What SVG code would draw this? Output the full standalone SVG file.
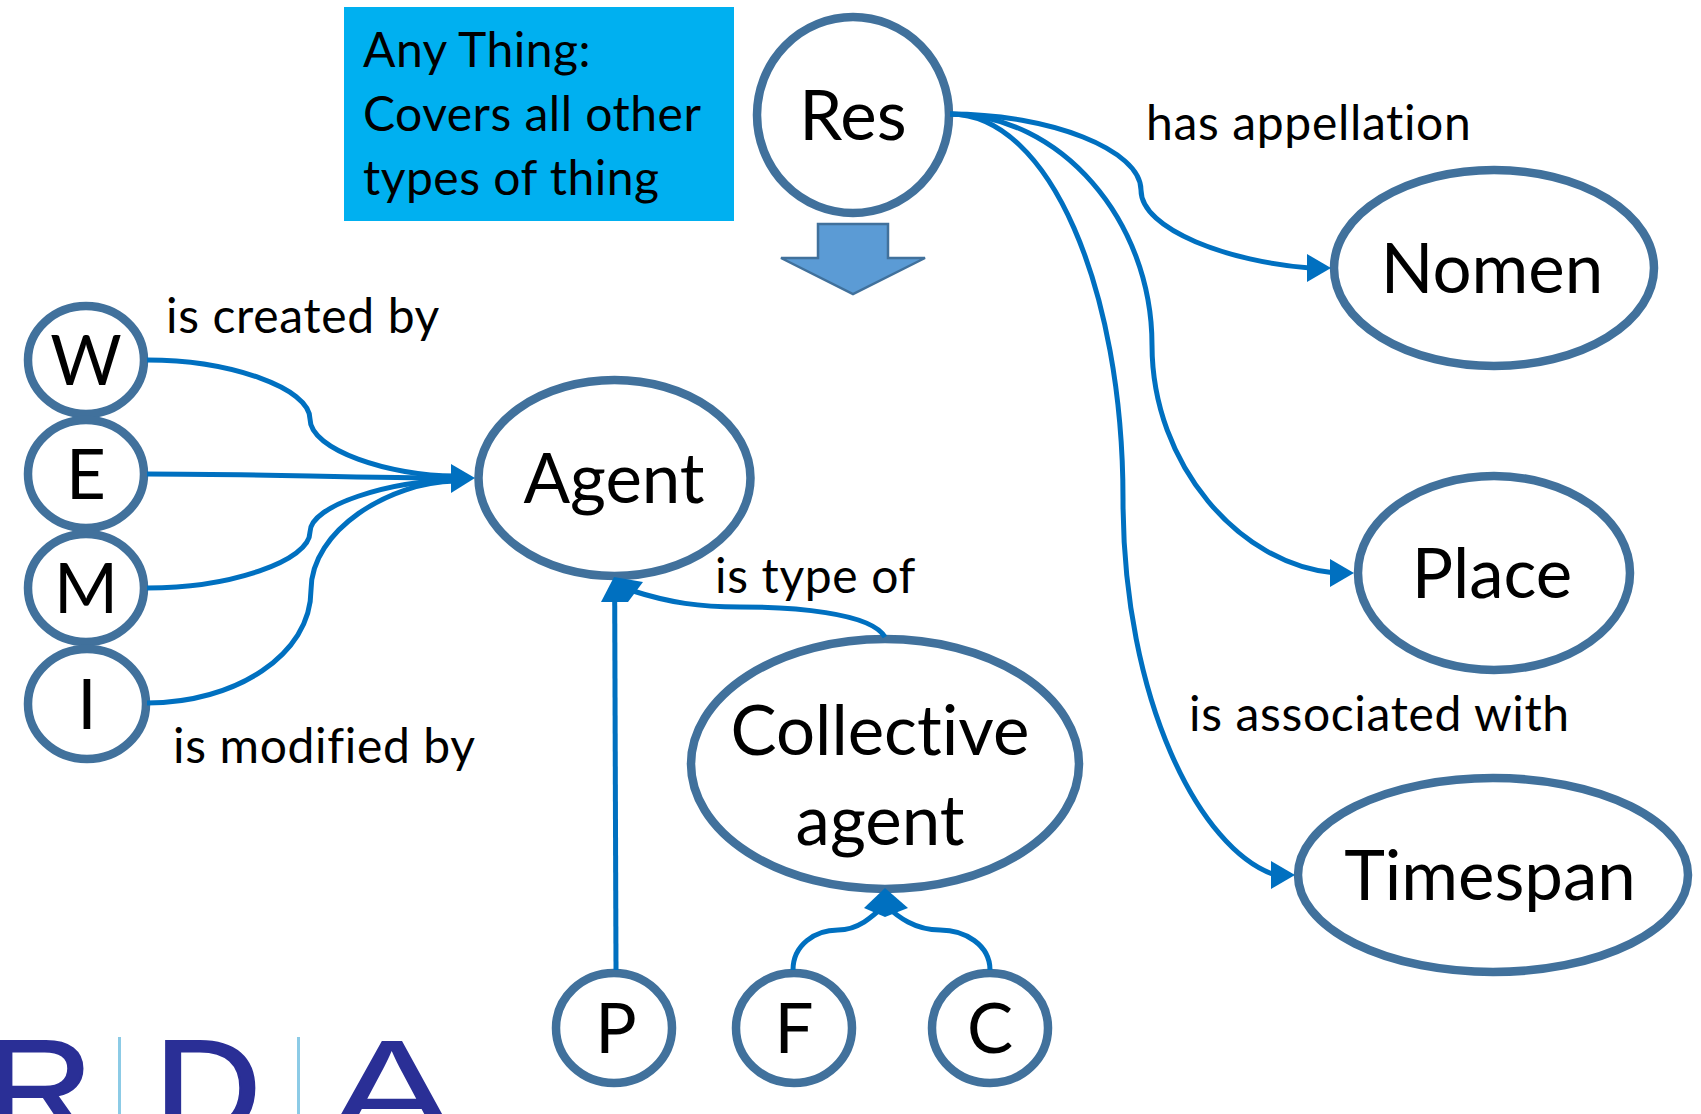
<svg xmlns="http://www.w3.org/2000/svg" width="1701" height="1114" viewBox="0 0 1701 1114">
<style>
text{font-family:"Lato","Carlito","Open Sans",sans-serif;fill:#000;font-variant-ligatures:none}
.n{fill:#fff;stroke:#41719c;stroke-width:8.5}
.c{fill:none;stroke:#0070c0;stroke-width:5}
.h{fill:#0070c0}
.t{font-size:69px;text-anchor:middle}
.l{font-size:48px;letter-spacing:.65px}
.b{font-size:48px;letter-spacing:.5px}
.g{font-family:"Liberation Sans",Arial,sans-serif;font-size:139px;fill:#2a2f96;stroke:#2a2f96;stroke-width:2}
</style>
<g id="logo">
<text class="g" transform="translate(-15,1137) scale(1.08,1)" style="fill:#2a2f96">R</text>
<text class="g" transform="translate(154,1137) scale(1.07,1)" style="fill:#2a2f96">D</text>
<text class="g" transform="translate(328,1137) scale(1.37,1)" style="fill:#2a2f96;stroke:none">A</text>
<rect x="118" y="1037" width="3" height="77" fill="#8ccbe6"/>
<rect x="297" y="1037" width="3" height="77" fill="#8ccbe6"/>
</g>
<g id="note">
<rect x="344" y="7" width="390" height="214" fill="#00b0f0"/>
<text class="b" x="363" y="67">Any Thing:</text>
<text class="b" x="363" y="131">Covers all other</text>
<text class="b" x="363" y="195">types of thing</text>
</g>
<g id="down-arrow"><polygon points="818,224 888,224 888,258 925,258 853,294 781,258 818,258" fill="#5b9bd5" stroke="#41719c" stroke-width="2.5"/></g>
<g id="res"><ellipse class="n" cx="853" cy="115" rx="96" ry="98"/><text class="t" x="853" y="140">Res</text></g>
<g id="nomen"><ellipse class="n" cx="1494" cy="268" rx="160" ry="98"/><text class="t" x="1492" y="293">Nomen</text></g>
<g id="place"><ellipse class="n" cx="1494" cy="573" rx="136" ry="97"/><text class="t" x="1492" y="598">Place</text></g>
<g id="timespan"><ellipse class="n" cx="1493" cy="875" rx="195" ry="97"/><text class="t" x="1490" y="900">Timespan</text></g>
<g id="agent"><ellipse class="n" cx="614.5" cy="478" rx="136" ry="98"/><text class="t" x="614" y="503">Agent</text></g>
<g id="collective"><ellipse class="n" cx="885" cy="764" rx="194" ry="125"/><text class="t" x="880" y="755">Collective</text><text class="t" x="880" y="845">agent</text></g>
<g id="w"><ellipse class="n" cx="86" cy="360" rx="58" ry="54"/><text class="t" x="86" y="385">W</text></g>
<g id="e"><ellipse class="n" cx="86" cy="474" rx="58" ry="54"/><text class="t" x="86" y="499">E</text></g>
<g id="m"><ellipse class="n" cx="86" cy="588" rx="58" ry="54"/><text class="t" x="86" y="613">M</text></g>
<g id="i"><ellipse class="n" cx="87" cy="704" rx="59" ry="55"/><text class="t" x="87" y="729">I</text></g>
<g id="p"><ellipse class="n" cx="614" cy="1028" rx="58" ry="55"/><text class="t" x="616" y="1053">P</text></g>
<g id="f"><ellipse class="n" cx="794" cy="1028" rx="58" ry="55"/><text class="t" x="794" y="1053">F</text></g>
<g id="c"><ellipse class="n" cx="990" cy="1028" rx="58" ry="55"/><text class="t" x="990" y="1053">C</text></g>
<g id="connectors">
<path class="c" d="M147,360C230,360 310,388 310,419C310,450 390,476 455,476"/>
<path class="c" d="M147,474C200,474 260,475 310,476C360,477 410,478 455,478"/>
<path class="c" d="M147,588C230,588 310,561 310,532C310,505 390,481 455,480"/>
<path class="c" d="M147,703C235,703 311,655 311,590C311,530 390,482 455,481"/>
<polygon class="h" points="475,478 451,464 451,493"/>
<path class="c" d="M950,114C1050,114 1141,150 1141,190C1141,230 1230,262 1310,268"/>
<polygon class="h" points="1331,268 1307,254 1307,282"/>
<path class="c" d="M950,114C1060,114 1152,220 1152,345C1152,465 1240,565 1335,573"/>
<polygon class="h" points="1354,573 1330,559 1330,587"/>
<path class="c" d="M950,114C1050,114 1123,290 1123,499C1123,700 1200,850 1275,875"/>
<polygon class="h" points="1295,875 1271,861 1271,889"/>
<path class="c" d="M885,637C870,612 790,607 740,607C700,607 670,603 630,590"/>
<path class="c" d="M616,970L614.7,600"/>
<polygon class="h" points="614,577 643,582 628,602 601,602"/>
<path class="c" d="M793,970C793,945 815,930 838,930C858,930 872,917 885,905"/>
<path class="c" d="M990,970C990,945 965,930 940,930C915,930 898,917 885,905"/>
<polygon class="h" points="885,888 908,908 885,917 864,908"/>
</g>
<g id="labels">
<text class="l" x="1146" y="140">has appellation</text>
<text class="l" x="166" y="333">is created by</text>
<text class="l" x="173" y="763">is modified by</text>
<text class="l" x="715" y="593">is type of</text>
<text class="l" x="1189" y="731">is associated with</text>
</g>
</svg>
